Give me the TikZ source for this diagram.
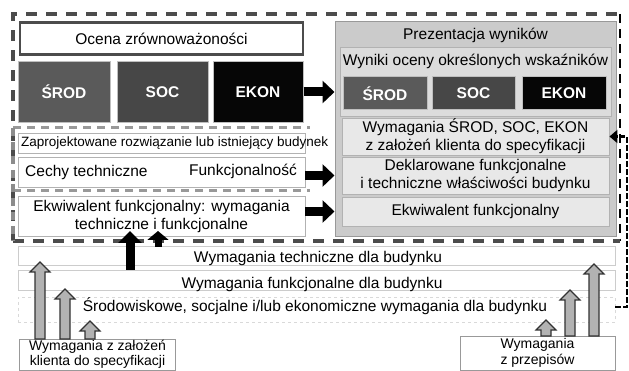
\documentclass[tikz,border=0pt]{standalone}
\usepackage{fontspec}
\setmainfont{Liberation Sans}
\usetikzlibrary{arrows.meta,calc}
\definecolor{srodc}{HTML}{5A5A5A}
\definecolor{socc}{HTML}{474747}
\definecolor{ekonc}{HTML}{060606}
\definecolor{panelc}{HTML}{CBCBCB}
\definecolor{innerc}{HTML}{DCDCDC}
\definecolor{lightc}{HTML}{E8E8E8}
\definecolor{garrc}{HTML}{B2B2B2}
\newcommand\garr[3]{\filldraw[garrow] ({#1-5},#2) -- ({#1-5},{#3+10}) -- ({#1-10},{#3+10}) -- (#1,#3) -- ({#1+10},{#3+10}) -- ({#1+5},{#3+10}) -- ({#1+5},#2) -- cycle;}
\begin{document}
\begin{tikzpicture}[x=1pt,y=-1pt,
  every node/.style={font=\fontsize{15.5}{18}\selectfont, inner sep=0pt, align=center},
  wbox/.style={draw=black!30, fill=white, line width=0.9pt},
  lbox/.style={draw=black!30, fill=lightc, line width=0.9pt},
  dbox/.style={draw=black!25, line width=1pt, text=white, font=\fontsize{15.5}{18}\selectfont\bfseries},
  band/.style={draw=black!20, fill=white, line width=0.9pt},
  garrow/.style={fill=garrc, draw=black!80, line width=1.2pt},
  barrow/.style={line width=9pt, -{Triangle[width=22pt,length=12pt]}},
  sepdash/.style={draw=black!40, line width=3pt, dash pattern=on 8pt off 6pt},
  framedash/.style={draw=black!70, line width=3.5pt, dash pattern=on 11pt off 9pt},
  linkdash/.style={draw=black, line width=2.2pt, dash pattern=on 6pt off 2pt}]
\useasboundingbox (0,0) rectangle (629,371);
\fill[white] (0,0) rectangle (629,371);

% outer dashed frame
\draw[framedash] (13,241) -- (13,14) -- (620,14);
\draw[draw=black, line width=2pt, dash pattern=on 9pt off 6pt] (620,14) -- (620,241);
\draw[framedash] (13,241) -- (620,241);
\draw[sepdash] (13,128) -- (310,128);
\draw[sepdash] (13,191) -- (310,191);
\draw[draw=black!45, line width=3.5pt, dash pattern=on 8pt off 6pt] (13,128) -- (13,241);

% left column
\node[wbox, draw=black!70, line width=2.8pt, minimum width=283pt, minimum height=32pt] (ocena) at (161.5,38.5) {Ocena zrównoważoności};
\node[dbox, fill=srodc, minimum width=92pt, minimum height=61pt] (srod1) at (64,92) {ŚROD};
\node[dbox, fill=socc, minimum width=91pt, minimum height=61pt] (soc1) at (162.5,92) {SOC};
\node[dbox, fill=ekonc, minimum width=90pt, minimum height=61pt] (ekon1) at (258,92) {EKON};

\node[wbox, minimum width=287pt, minimum height=20pt] (zapr) at (161.5,143) {};
\node[anchor=west, font=\fontsize{13.5}{16}\selectfont] (zaprt) at (21,143) {Zaprojektowane rozwiązanie lub istniejący budynek};

\node[wbox, minimum width=287pt, minimum height=30pt] (cechy) at (161.5,172) {};
\node[anchor=west] (cechyt) at (25,172) {Cechy techniczne};
\node[anchor=east] (funkt) at (297,171) {Funkcjonalność};

\node[wbox, minimum width=287pt, minimum height=40pt] (ekw1) at (161.5,216) {Ekwiwalent funkcjonalny: wymagania\\techniczne i funkcjonalne};

% right panel
\node[draw=black!40, fill=panelc, line width=1pt, minimum width=281pt, minimum height=215pt] (panel) at (475.5,129.5) {};
\node (prez) at (475.5,35) {Prezentacja wyników};
\node[lbox, fill=innerc, minimum width=271pt, minimum height=69pt] (wyniki) at (475.5,81.5) {};
\node (wynikit) at (475.5,61) {Wyniki oceny określonych wskaźników};
\node[dbox, fill=srodc, minimum width=84pt, minimum height=33pt] (srod2) at (385,93.5) {ŚROD};
\node[dbox, fill=socc, minimum width=83pt, minimum height=33pt] (soc2) at (473.5,93.5) {SOC};
\node[dbox, fill=ekonc, minimum width=84pt, minimum height=33pt] (ekon2) at (564,93.5) {EKON};
\node[lbox, minimum width=267pt, minimum height=37pt] (wym) at (475.5,136.5) {Wymagania ŚROD, SOC, EKON\\z założeń klienta do specyfikacji};
\node[lbox, minimum width=267pt, minimum height=37pt] (dekl) at (475.5,175.5) {Deklarowane funkcjonalne\\i techniczne właściwości budynku};
\node[lbox, minimum width=267pt, minimum height=29pt] (ekw2) at (475.5,211.5) {Ekwiwalent funkcjonalny};

% black arrows to panel
\draw[barrow] (ekon1.east) -- (panel.west |- ekon1.east);
\draw[barrow] (cechy.east |- dekl.center) -- (panel.west |- dekl.center);
\draw[barrow] (ekw1.east |- ekw2.center) -- (panel.west |- ekw2.center);

% bands
\node[band, minimum width=597pt, minimum height=19pt] (b1) at (316.5,255.5) {};
\node (b1t) at (318,258) {Wymagania techniczne dla budynku};
\node[band, minimum width=597pt, minimum height=20pt] (b2) at (316.5,280) {};
\node (b2t) at (312,284.5) {Wymagania funkcjonalne dla budynku};
\node[band, draw=black!15, dashed, minimum width=597pt, minimum height=25pt] (b3) at (316.5,309.5) {};
\node (b3t) at (315,306.5) {Środowiskowe, socjalne i/lub ekonomiczne wymagania dla budynku};

% bottom boxes
\node[wbox, draw=black!40, minimum width=156pt, minimum height=31pt, font=\fontsize{14}{15.5}\selectfont] (cl) at (97.5,354.5) {Wymagania z założeń\\klienta do specyfikacji};
\node[wbox, draw=black!40, minimum width=155pt, minimum height=34pt, font=\fontsize{14}{15.5}\selectfont] (cr) at (537.5,353) {Wymagania\\z przepisów};

% gray arrows
\garr{40}{339}{262}
\garr{65}{339}{289}
\garr{90}{339}{321}
\garr{546}{336}{320}
\garr{570}{336}{290}
\garr{594}{336}{264}

% black up arrows
\coordinate (bu1) at (130,270);
\coordinate (bu2) at (158,247);
\coordinate (tipline) at (0,231);
\draw[line width=9pt, -{Triangle[width=23pt,length=12pt]}] (bu1) -- (bu1 |- tipline);
\draw[line width=7pt, -{Triangle[width=21pt,length=9pt]}] (bu2) -- (bu2 |- tipline);

% right dashed connector
\coordinate (rc1) at (627,307);
\draw[linkdash, -{Triangle[width=13pt,length=8pt]}] (b3.east |- rc1) -- (rc1) |- (wym.east);
\end{tikzpicture}
\end{document}
